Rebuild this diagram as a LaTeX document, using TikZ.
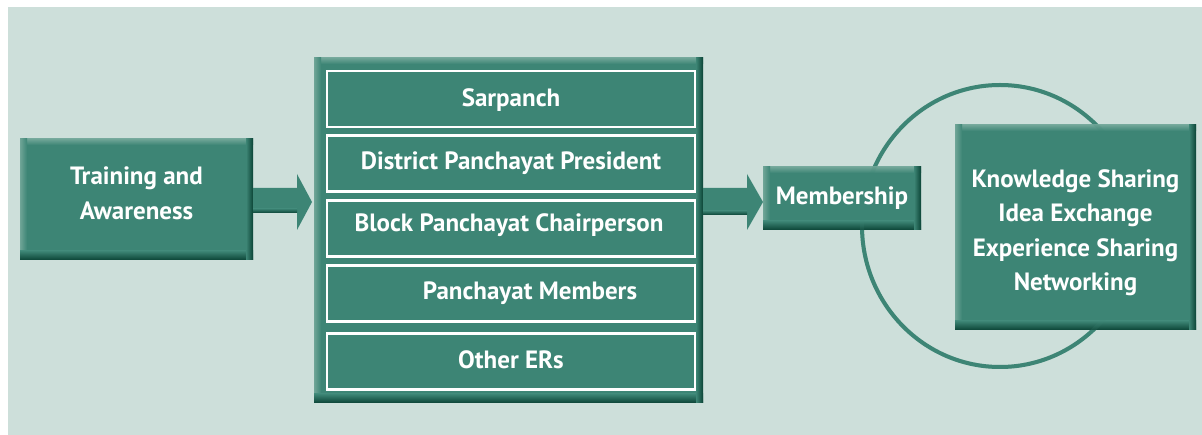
\documentclass[tikz,border=0pt]{standalone}
\usepackage{fontspec}
\setmainfont{PT Sans}
\usetikzlibrary{calc}
\definecolor{mainc}{HTML}{3D8575}
\definecolor{darkc}{HTML}{0B4436}
\definecolor{lightc}{HTML}{6FA597}
\definecolor{bgc}{HTML}{CDDFDA}
\newcommand\bevelfx[1]{%
  \shade[top color=lightc, bottom color=mainc] (#1.north west) rectangle ($(#1.north east)+(0,6)$);
  \shade[left color=lightc, right color=mainc] (#1.north west) rectangle ($(#1.south west)+(7,0)$);
  \shade[top color=mainc, bottom color=darkc] ($(#1.south west)+(0,-9)$) rectangle (#1.south east);
  \shade[left color=mainc, right color=darkc] ($(#1.north east)+(-7,0)$) rectangle (#1.south east);
}
\tikzset{
  box/.style={fill=mainc, inner sep=0pt, outer sep=0pt, text=white, align=center,
     font=\fontsize{25}{34.5}\selectfont\bfseries},
  row/.style={draw=white, line width=2.5pt, fill=mainc, minimum width=368pt, minimum height=56pt,
     inner sep=0pt, text=white, font=\fontsize{25}{28}\selectfont\bfseries},
  rowtext/.style={inner sep=0pt, text=white, font=\fontsize{25}{28}\selectfont\bfseries},
  arr/.style={fill=mainc, draw=none},
  ring/.style={draw=mainc, line width=4pt},
}
\begin{document}
\begin{tikzpicture}[x=1pt,y=-1pt]
\useasboundingbox (0,0) rectangle (1202,435);
\fill[white] (0,0) rectangle (1202,435);
\fill[bgc] (8,7) rectangle (1202,435);

% circle (behind)
\draw[ring] (1000,226) ellipse [x radius=138, y radius=141];

% boxes
\node[box, minimum width=233pt, minimum height=121pt] (train) at (136.5,199.5) {};
\node[box, minimum width=389pt, minimum height=345pt] (big) at (508.5,230.5) {};
\node[box, minimum width=158pt, minimum height=63pt] (memb) at (842,198.5) {};
\node[box, minimum width=241pt, minimum height=205pt] (know) at (1075.5,227.5) {};
\bevelfx{train}
\bevelfx{big}
\bevelfx{memb}
\bevelfx{know}

% faint circle through knowledge box
\draw[ring, opacity=0.18] (1000,226) ellipse [x radius=138, y radius=141];

% texts
\node[box, fill=none] (traint) at ($(train.center)+(0,-6)$) {Training and\\Awareness};
\node[box, fill=none] (membt) at ($(memb.center)+(0,0)$) {Membership};
\node[box, fill=none] (knowt) at ($(know.center)+(0,5)$) {Knowledge Sharing\\Idea Exchange\\Experience Sharing\\Networking};

% rows
\node[row] (r1) at (511,99) {};
\node[row] (r2) at (511,163.5) {};
\node[row] (r3) at (511,228.5) {};
\node[row] (r4) at (511,293.5) {};
\node[row] (r5) at (511,361.5) {};
\node[rowtext] (t1) at ($(r1.center)+(0,1.5)$) {Sarpanch};
\node[rowtext] (t2) at ($(r2.center)+(0,0)$) {District Panchayat President};
\node[rowtext] (t3) at ($(r3.center)+(-2,-3)$) {Block Panchayat Chairperson};
\node[rowtext] (t4) at ($(r4.center)+(19,0)$) {Panchayat Members};
\node[rowtext] (t5) at ($(r5.center)+(0,-2)$) {Other ERs};

% arrows
\coordinate (a1s) at (train.east |- 0,200.5);
\coordinate (a1t) at (312,202);
\fill[arr] ($(a1s)+(0,-12.5)$) -- (297,188) -- (297,174) -- (a1t) -- (297,230) -- (297,213) -- ($(a1s)+(0,12.5)$) -- cycle;
\shade[top color=mainc, bottom color=darkc] ($(a1s)+(0,8)$) rectangle (297,213);
\coordinate (a2s) at (big.east |- 0,201.5);
\coordinate (a2t) at (memb.west |- 0,202);
\fill[arr] ($(a2s)+(0,-13.5)$) -- (747,188) -- (747,174) -- (a2t) -- (747,230) -- (747,215) -- ($(a2s)+(0,13.5)$) -- cycle;
\shade[top color=mainc, bottom color=darkc] ($(a2s)+(0,9)$) rectangle (747,215);
\end{tikzpicture}
\end{document}
